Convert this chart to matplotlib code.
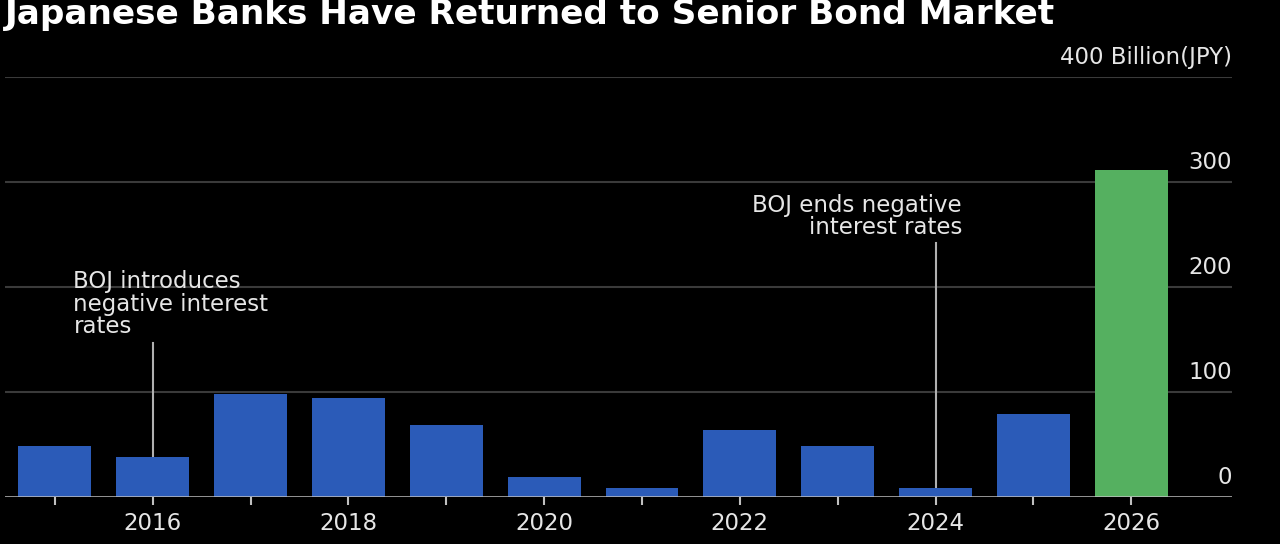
import matplotlib
matplotlib.use("Agg")
import matplotlib.pyplot as plt
from matplotlib.transforms import blended_transform_factory

# Senior bond issuance by Japanese banks, billion yen
years = [2015, 2016, 2017, 2018, 2019, 2020, 2021, 2022, 2023, 2024, 2025, 2026]
issuance = [49, 38, 98, 94, 69, 19, 9, 64, 49, 9, 79, 311]
y_ticks = [0, 100, 200, 300, 400]
x_labels = [2016, 2018, 2020, 2022, 2024, 2026]

BLUE = "#2b5bb8"
GREEN = "#55b060"
TXT = "#e6e6e6"
FS = 16.5

plt.rcParams["font.family"] = ["DejaVu Sans"]

fig = plt.figure(figsize=(12.8, 5.44), dpi=100, facecolor="black")
ax = fig.add_axes([5 / 1280, 47 / 544, 1227 / 1280, 420 / 544])
ax.set_facecolor("black")

colors = [GREEN if y == 2026 else BLUE for y in years]
ax.bar(years, issuance, width=0.745, color=colors, zorder=3)

ax.set_xlim(2014.49, 2027.03)
ax.set_ylim(0, 400)

# gridlines, with the y labels sitting above them on the right
tr = blended_transform_factory(ax.transAxes, ax.transData)
for t in y_ticks:
    if t == 0:
        ax.axhline(0, color="#c0c0c0", lw=1.8, zorder=4)
    else:
        ax.axhline(t, color="#3a3a3a", lw=1.5, zorder=1)
for t in y_ticks[:-1]:
    ax.text(1.0, t + 8, str(t), transform=tr, ha="right", va="bottom",
            color=TXT, fontsize=FS)
ax.text(1.0, 408, "400 Billion(JPY)", transform=tr, ha="right", va="bottom",
        color=TXT, fontsize=FS)

for s in ax.spines.values():
    s.set_visible(False)
ax.set_yticks([])
ax.set_xticks(years)
ax.set_xticklabels([str(y) if y in x_labels else "" for y in years])
ax.tick_params(axis="x", colors="#c0c0c0", length=6, width=1.5, pad=5,
               labelsize=FS, labelcolor=TXT)

# annotations
ax.plot([2016, 2016], [0, 147], color="#b0b0b0", lw=1.5, zorder=2)
ax.text(2015.19, 216, "BOJ introduces\nnegative interest\nrates", color=TXT,
        fontsize=FS, ha="left", va="top", linespacing=0.98)
ax.plot([2024, 2024], [0, 242], color="#b0b0b0", lw=1.5, zorder=2)
ax.text(2024.27, 289, "BOJ ends negative\ninterest rates", color=TXT,
        fontsize=FS, ha="right", va="top", linespacing=0.98)

fig.text(5 / 1280, (544 - 24) / 544, "Japanese Banks Have Returned to Senior Bond Market",
         color="white", fontsize=24.7, fontweight="bold", ha="left", va="baseline")

fig.savefig("out.png", dpi=100, facecolor="black")
